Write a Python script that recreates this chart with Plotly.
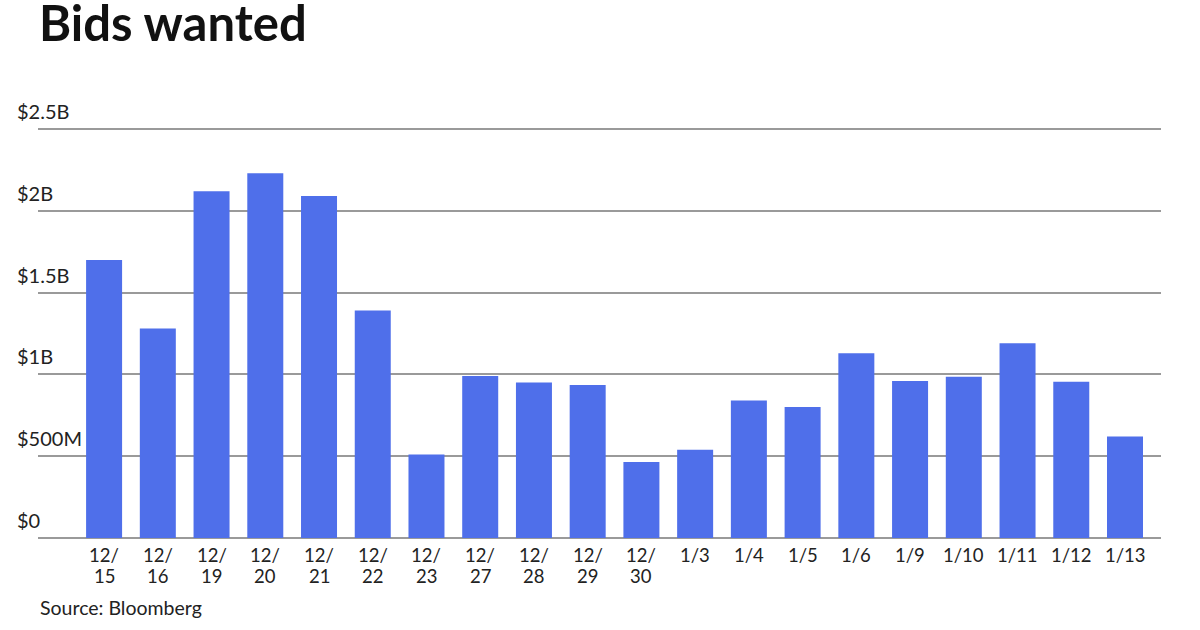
import plotly.graph_objects as go

categories = ["12/15", "12/16", "12/19", "12/20", "12/21", "12/22", "12/23", "12/27", "12/28",
              "12/29", "12/30", "1/3", "1/4", "1/5", "1/6", "1/9", "1/10", "1/11", "1/12", "1/13"]
values = [1.70, 1.28, 2.12, 2.23, 2.09, 1.39, 0.51, 0.99, 0.95, 0.935, 0.465, 0.54, 0.84, 0.80,
          1.13, 0.96, 0.985, 1.19, 0.955, 0.62]
ytick_vals = [0, 0.5, 1, 1.5, 2, 2.5]
ytick_text = ["$0", "$500M", "$1B", "$1.5B", "$2B", "$2.5B"]

FONT = "Lato, 'Open Sans', sans-serif"
W, H = 1200, 630
L, R, T, B = 38, 39, 127, 92
pw = W - L - R
ph = H - T - B
ytop = 2.5 * ph / 409.0
xs = list(range(len(categories)))

fig = go.Figure(go.Bar(x=xs, y=values, marker_color="#4f6fea",
                       marker_line_width=0, width=0.67, hoverinfo="skip"))

annotations = []
for v, t in zip(ytick_vals, ytick_text):
    annotations.append(dict(xref="paper", yref="y", x=(15 - L) / pw, y=v, yshift=18,
                            xanchor="left", yanchor="middle", text=t, showarrow=False,
                            font=dict(family=FONT, size=20, color="#222")))

# x tick labels: December dates wrap after the slash
for x, c in zip(xs, categories):
    if c.startswith("12/"):
        lines = [c[:3], c[3:]]
    else:
        lines = [c]
    for k, line in enumerate(lines):
        annotations.append(dict(xref="x", yref="y", x=x, y=0, yshift=-(17 + 21 * k),
                                xanchor="center", yanchor="middle", text=line, showarrow=False,
                                font=dict(family=FONT, size=18.5, color="#222")))

annotations.append(dict(xref="paper", yref="paper", x=0, y=-(607 - (H - B)) / ph,
                        xanchor="left", yanchor="middle", text="Source: Bloomberg", showarrow=False,
                        font=dict(family=FONT, size=19.5, color="#222")))

fig.update_layout(
    width=W, height=H,
    margin=dict(l=L, r=R, t=T, b=B),
    plot_bgcolor="white", paper_bgcolor="white",
    title=dict(text="<b>Bids wanted</b>", x=39 / W, xanchor="left", y=1 - 24 / H, yanchor="middle",
               font=dict(family=FONT, size=49, color="#111")),
    xaxis=dict(range=[-1.23, 19.67], tickvals=xs, showticklabels=False, showgrid=False,
               zeroline=False, showline=False, ticks=""),
    yaxis=dict(range=[0, ytop], tickvals=ytick_vals, showticklabels=False, showgrid=True,
               gridcolor="#9a9a9a", gridwidth=1.5, zeroline=True, zerolinecolor="#9a9a9a",
               zerolinewidth=2),
    annotations=annotations,
    showlegend=False,
)
fig.write_html("out.html", config={"displayModeBar": False},
               post_script="document.body.style.margin='0';document.body.style.padding='0';")
